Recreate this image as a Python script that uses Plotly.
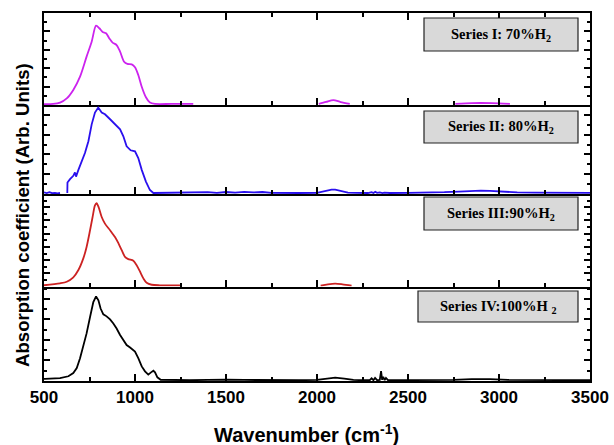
import plotly.graph_objects as go

# ---------------- data ----------------
wn1 = [500, 550, 588, 625, 661, 698, 734, 762, 786, 804,
       822, 841, 859, 877, 899, 918, 940, 958, 982, 1000,
       1018, 1037, 1060, 1082, 1110, 1200, 1320, 1400, 2010, 2050,
       2090, 2130, 2180, 2300, 2760, 2850, 2900, 2960, 3060]
a1 = [0.05, 0.06, 0.13, 0.36, 0.82, 1.54, 2.63, 3.44, 4.31, 4.17,
      3.97, 3.90, 3.62, 3.39, 3.26, 2.90, 2.35, 2.23, 2.21, 2.05,
      1.63, 0.99, 0.42, 0.13, 0.06, 0.06, 0.06, None, 0.06, 0.17,
      0.27, 0.16, 0.06, None, 0.06, 0.10, 0.11, 0.10, 0.06]

wn2 = [500, 515, 530, 545, 560, 575, 588, 600, 628, 629,
       643, 661, 670, 676, 689, 707, 725, 744, 762, 780,
       798, 817, 835, 863, 890, 918, 936, 954, 976, 1000,
       1018, 1037, 1060, 1082, 1101, 1150, 1250, 1350, 1400, 1450,
       1500, 1550, 1600, 1650, 1700, 1750, 1800, 1900, 2000, 2040,
       2080, 2100, 2130, 2170, 2220, 2280, 2300, 2310, 2320, 2330,
       2345, 2360, 2370, 2400, 2500, 2600, 2700, 2780, 2850, 2900,
       2950, 3020, 3100, 3200, 3300, 3400, 3500]
a2 = [0.08, 0.05, 0.09, 0.04, 0.06, 0.03, 0.05, None, 0.05, 0.58,
      0.75, 0.92, 1.09, 0.88, 1.22, 1.65, 2.07, 2.67, 3.52, 4.12,
      4.37, 4.12, 4.03, 3.78, 3.52, 3.27, 2.92, 2.41, 2.21, 2.16,
      1.82, 1.22, 0.63, 0.20, 0.05, 0.06, 0.05, 0.07, 0.09, 0.06,
      0.10, 0.07, 0.11, 0.08, 0.10, 0.06, 0.05, 0.05, 0.06, 0.15,
      0.22, 0.22, 0.14, 0.07, 0.06, 0.05, 0.09, 0.05, 0.11, 0.06,
      0.08, 0.05, 0.07, 0.05, 0.06, 0.06, 0.09, 0.12, 0.16, 0.17,
      0.16, 0.12, 0.08, 0.07, 0.06, 0.07, 0.06]

wn3 = [500, 588, 625, 661, 689, 716, 734, 753, 767, 780,
       789, 800, 817, 835, 863, 890, 908, 927, 945, 963,
       991, 1009, 1028, 1046, 1064, 1092, 1137, 1200, 1250, 1400,
       2020, 2060, 2100, 2140, 2190]
a3 = [0.10, 0.25, 0.37, 0.70, 1.25, 2.13, 3.00, 4.26, 5.26, 6.14,
      6.31, 6.01, 5.26, 4.76, 4.26, 3.75, 3.30, 2.75, 2.25, 2.08,
      1.95, 1.62, 1.12, 0.62, 0.29, 0.14, 0.10, 0.09, 0.09, None,
      0.08, 0.17, 0.22, 0.17, 0.08]

wn4 = [500, 506, 588, 634, 661, 680, 698, 716, 734, 753,
       771, 786, 799, 811, 826, 844, 863, 881, 899, 918,
       936, 954, 973, 1000, 1018, 1037, 1055, 1073, 1088, 1101,
       1110, 1123, 1141, 1210, 1300, 1400, 1500, 1600, 1700, 1800,
       1900, 2000, 2050, 2100, 2150, 2200, 2250, 2290, 2300, 2310,
       2319, 2330, 2345, 2352, 2358, 2364, 2372, 2379, 2390, 2450,
       2600, 2750, 2850, 2900, 2950, 3050, 3200, 3350, 3500]
a4 = [0.10, 0.10, 0.14, 0.23, 0.39, 0.63, 1.11, 1.67, 2.32, 3.12,
      3.85, 4.12, 3.93, 3.53, 3.25, 3.15, 3.00, 2.80, 2.56, 2.24,
      1.96, 1.75, 1.63, 1.43, 1.11, 0.71, 0.47, 0.31, 0.42, 0.50,
      0.42, 0.18, 0.06, 0.04, 0.04, 0.05, 0.07, 0.05, 0.04, 0.04,
      0.04, 0.05, 0.12, 0.16, 0.12, 0.05, 0.04, 0.04, 0.13, 0.04,
      0.15, 0.04, 0.05, 0.48, 0.06, 0.20, 0.04, 0.15, 0.04, 0.04,
      0.04, 0.05, 0.09, 0.10, 0.09, 0.05, 0.04, 0.04, 0.04]

series_labels = ["Series I: 70%H<sub>2</sub>", "Series II: 80%H<sub>2</sub>",
                 "Series III:90%H<sub>2</sub>", "Series IV:100%H <sub>2</sub>"]
colors = ["#cc22ee", "#2a10ee", "#cc2222", "#000000"]
y_ranges = [[0, 5], [0, 4.5], [0, 7], [0, 4.6]]
x_ticks = [500, 1000, 1500, 2000, 2500, 3000, 3500]

# ---------------- figure ----------------
W, H = 614, 445
L, R, T, B = 44, 24, 13, 64
ph = H - T - B
bounds_px = [13, 105, 194, 286.6, 381]  # panel edges (px from top)
def py(p):
    return (H - B - p) / ph

domains = [[py(bounds_px[i + 1]), py(bounds_px[i])] for i in range(4)]

fig = go.Figure()
xs = [wn1, wn2, wn3, wn4]
ys = [a1, a2, a3, a4]
shapes_kind = ["spline", "linear", "spline", "linear"]
for i in range(4):
    fig.add_trace(go.Scatter(
        x=xs[i], y=ys[i], mode="lines",
        line=dict(color=colors[i], width=1.8, shape=shapes_kind[i], smoothing=0.8),
        xaxis="x" if i == 0 else f"x{i+1}",
        yaxis="y" if i == 0 else f"y{i+1}",
        connectgaps=False, showlegend=False, hoverinfo="skip"))

tickfont = dict(family="Liberation Sans, Arial", size=17, color="black", weight="bold")
layout = dict(width=W, height=H, margin=dict(l=L, r=R, t=T, b=B, autoexpand=False),
              paper_bgcolor="white", plot_bgcolor="white", showlegend=False)
for i in range(4):
    sx = "" if i == 0 else str(i + 1)
    layout["xaxis" + sx] = dict(
        range=[500, 3500], domain=[0, 1], anchor="y" + sx,
        showline=True, linecolor="black", linewidth=2,
        mirror="ticks" if i == 0 else False,
        ticks="inside", ticklen=7, tickwidth=1.5, tickcolor="black",
        tickvals=x_ticks, ticktext=[str(v) for v in x_ticks],
        minor=dict(ticks="inside", ticklen=4, tickwidth=1.5, tickcolor="black", dtick=250, tick0=500),
        showticklabels=(i == 3), tickfont=tickfont, automargin=False,
        showgrid=False, zeroline=False, fixedrange=True)
    layout["yaxis" + sx] = dict(
        range=y_ranges[i], domain=domains[i], anchor="x" + sx,
        showline=True, linecolor="black", linewidth=2, mirror="ticks",
        ticks="inside", ticklen=6, tickwidth=1.5, tickcolor="black",
        dtick=1, tick0=0,
        minor=dict(ticks="inside", ticklen=3, tickwidth=1.5, tickcolor="black", dtick=0.5, tick0=0),
        showticklabels=False, showgrid=False, zeroline=False, fixedrange=True, automargin=False)
fig.update_layout(**layout)

# label boxes (paper coords)
def px_x(p):
    return (p - L) / (W - L - R)
boxes = [(424, 578, 18, 51), (424, 578, 111, 143), (424, 578, 197, 230), (418, 578, 291, 322)]
for (x0, x1, y0, y1), txt in zip(boxes, series_labels):
    fig.add_shape(type="rect", xref="paper", yref="paper",
                  x0=px_x(x0), x1=px_x(x1), y0=py(y1), y1=py(y0),
                  line=dict(color="#222222", width=1.2), fillcolor="#d9d9d9", layer="above")
    fig.add_annotation(xref="paper", yref="paper", x=px_x((x0 + x1) / 2), y=py((y0 + y1) / 2),
                       text=txt, showarrow=False, xanchor="center", yanchor="middle",
                       font=dict(family="Liberation Serif, Times New Roman", size=14.5,
                                 color="black", weight="bold"))

fig.add_annotation(xref="paper", yref="paper", x=px_x(306), y=py(433),
                   text="Wavenumber (cm<sup>-1</sup>)", showarrow=False,
                   xanchor="center", yanchor="middle",
                   font=dict(family="Liberation Sans, Arial", size=20, color="black", weight="bold"))
fig.add_annotation(xref="paper", yref="paper", x=px_x(22), y=py(215),
                   text="Absorption coefficient (Arb. Units)", showarrow=False, textangle=-90,
                   xanchor="center", yanchor="middle",
                   font=dict(family="Liberation Sans, Arial", size=18.6, color="black", weight="bold"))

fig.write_html("out.html", config={"displayModeBar": False},
               post_script="document.body.style.margin='0px';document.body.style.overflow='hidden';")
